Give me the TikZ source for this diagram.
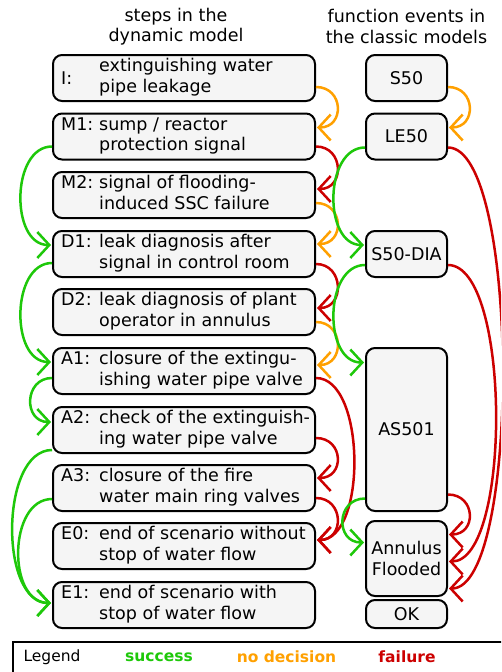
\documentclass[tikz,border=0pt]{standalone}
\usepackage{fontspec}
\setmainfont{DejaVu Sans}
\usetikzlibrary{arrows.meta}
\definecolor{cgreen}{RGB}{30,200,10}
\definecolor{corange}{RGB}{255,160,0}
\definecolor{cred}{RGB}{204,0,0}
\definecolor{boxfill}{RGB}{245,245,245}
\begin{document}
\begin{tikzpicture}[x=1pt,y=-1pt,
  font=\fontsize{17.5}{20.5}\selectfont,
  stepbox/.style={draw, line width=2pt, rounded corners=9pt, fill=boxfill, minimum width=262pt, minimum height=46pt, inner sep=0pt},
  fbox/.style={draw, line width=2pt, rounded corners=9pt, fill=boxfill, minimum width=81pt, inner sep=0pt, align=center},
  steptext/.style={anchor=west, inner sep=0pt},
  conn/.style={line width=2.5pt, -{Straight Barb[length=12pt,width=26pt]}},
  succ/.style={conn, draw=cgreen},
  nodec/.style={conn, draw=corange},
  fail/.style={conn, draw=cred},
  legtext/.style={font=\fontsize{15.5}{18}\selectfont\bfseries},
]
\useasboundingbox (0,0) rectangle (501,672);
\clip (0,0) rectangle (501,672);

% headings
\node[align=center] (h1) at (176,26.5) {steps in the\\dynamic model};
\node[align=center] (h2) at (406.5,26.5) {function events in\\the classic models};

% left boxes
\node[stepbox] (I)  at (184,78)    {};
\node[stepbox] (M1) at (184,136.5) {};
\node[stepbox] (M2) at (184,195)   {};
\node[stepbox] (D1) at (184,254)   {};
\node[stepbox] (D2) at (184,312)   {};
\node[stepbox] (A1) at (184,371)   {};
\node[stepbox] (A2) at (184,430)   {};
\node[stepbox] (A3) at (184,488)   {};
\node[stepbox] (E0) at (184,546)   {};
\node[stepbox] (E1) at (184,605)   {};

\node[steptext] (Il) at ([xshift=9pt]I.west) {I:};
\node[steptext] (It) at ([xshift=47pt]I.west) {\begin{tabular}{@{}l@{}}extinguishing water\\pipe leakage\end{tabular}};
\node[steptext] (M1t) at ([xshift=9pt]M1.west) {\begin{tabular}{@{}p{38pt}@{}l@{}}M1:&sump / reactor\\&protection signal\end{tabular}};
\node[steptext] (M2t) at ([xshift=9pt]M2.west) {\begin{tabular}{@{}p{38pt}@{}l@{}}M2:&signal of flooding-\\&induced SSC failure\end{tabular}};
\node[steptext] (D1t) at ([xshift=9pt]D1.west) {\begin{tabular}{@{}p{38pt}@{}l@{}}D1:&leak diagnosis after\\&signal in control room\end{tabular}};
\node[steptext] (D2t) at ([xshift=9pt]D2.west) {\begin{tabular}{@{}p{38pt}@{}l@{}}D2:&leak diagnosis of plant\\&operator in annulus\end{tabular}};
\node[steptext] (A1t) at ([xshift=9pt]A1.west) {\begin{tabular}{@{}p{38pt}@{}l@{}}A1:&closure of the extingu-\\&ishing water pipe valve\end{tabular}};
\node[steptext] (A2t) at ([xshift=9pt]A2.west) {\begin{tabular}{@{}p{38pt}@{}l@{}}A2:&check of the extinguish-\\&ing water pipe valve\end{tabular}};
\node[steptext] (A3t) at ([xshift=9pt]A3.west) {\begin{tabular}{@{}p{38pt}@{}l@{}}A3:&closure of the fire\\&water main ring valves\end{tabular}};
\node[steptext] (E0t) at ([xshift=9pt]E0.west) {\begin{tabular}{@{}p{38pt}@{}l@{}}E0:&end of scenario without\\&stop of water flow\end{tabular}};
\node[steptext] (E1t) at ([xshift=9pt]E1.west) {\begin{tabular}{@{}p{38pt}@{}l@{}}E1:&end of scenario with\\&stop of water flow\end{tabular}};

% right boxes
\node[fbox, minimum height=46pt] (S50) at (406.5,78) {S50};
\node[fbox, minimum height=46pt] (LE50) at (406.5,136.5) {LE50};
\node[fbox, minimum height=46pt] (S50DIA) at (406.5,254) {S50-DIA};
\node[fbox, minimum height=163pt] (AS501) at (406.5,429.5) {AS501};
\node[fbox, minimum height=75pt] (AF) at (406.5,558.5) {Annulus\\Flooded};
\node[fbox, minimum height=28pt] (OK) at (406.5,614) {OK};

% no decision
\draw[nodec] ([yshift=-9pt]I.east) .. controls +(28,0) and +(28,0) .. ([xshift=1pt,yshift=9pt]M1.east);
\draw[nodec] ([yshift=-9pt]S50.east) .. controls +(28,0) and +(28,0) .. ([xshift=1pt,yshift=9pt]LE50.east);
\draw[nodec] ([yshift=-8pt]M2.east) .. controls +(28,0) and +(28,0) .. ([xshift=1pt,yshift=10pt]D1.east);
\draw[nodec] ([yshift=-10pt]D2.east) .. controls +(28,0) and +(28,0) .. ([xshift=1pt,yshift=6pt]A1.east);

% failure
\draw[fail] ([yshift=-10pt]M1.east) .. controls +(28,0) and +(28,0) .. ([xshift=1pt,yshift=6pt]M2.east);
\draw[fail] ([yshift=-10pt]D1.east) .. controls +(28,0) and +(28,0) .. ([xshift=1pt,yshift=4pt]D2.east);
\draw[fail] ([yshift=-7pt]A1.east) .. controls +(50,0) and +(50,0) .. ([xshift=1pt,yshift=6pt]E0.east);
\draw[fail] ([yshift=-8pt]A2.east) .. controls +(28,0) and +(28,0) .. ([xshift=1pt,yshift=10pt]A3.east);
\draw[fail] ([yshift=-10pt]A3.east) .. controls +(28,0) and +(28,0) .. ([xshift=1pt,yshift=6pt]E0.east);
\draw[fail] ([yshift=-11pt]LE50.east) .. controls +(72,0) and +(72,0) .. ([xshift=1pt,yshift=-30pt]AF.east);
\draw[fail] ([yshift=-11pt]S50DIA.east) .. controls +(63,0) and +(63,0) .. ([xshift=1pt,yshift=-3pt]AF.east);
\draw[fail] ([yshift=-65pt]AS501.east) .. controls +(28,0) and +(28,0) .. ([xshift=1pt,yshift=24pt]AF.east);

% success
\draw[succ] ([yshift=-10pt]M1.west) .. controls +(-41,0) and +(-41,0) .. ([xshift=-1pt,yshift=9pt]D1.west);
\draw[succ] ([yshift=-9pt]D1.west) .. controls +(-41,0) and +(-41,0) .. ([xshift=-1pt,yshift=9pt]A1.west);
\draw[succ] ([yshift=-7pt]A1.west) .. controls +(-28,0) and +(-28,0) .. ([xshift=-1pt,yshift=8pt]A2.west);
\draw[succ] ([yshift=-20pt]A2.west) .. controls +(-52,0) and +(-52,0) .. ([xshift=-1pt,yshift=2pt]E1.west);
\draw[succ] ([yshift=-11pt]A3.west) .. controls +(-44,0) and +(-44,0) .. ([xshift=-1pt,yshift=2pt]E1.west);
\draw[succ] ([yshift=-11pt]LE50.west) .. controls +(-41,0) and +(-41,0) .. ([xshift=-1pt,yshift=9pt]S50DIA.west);
\draw[succ] ([yshift=-11pt]S50DIA.west) .. controls +(-41,0) and +(-41,0) .. ([xshift=-1pt,yshift=67pt]AS501.west);
\draw[succ] ([yshift=-69pt]AS501.west) .. controls +(-29,0) and +(-29,0) .. ([xshift=-1pt,yshift=16pt]AF.west);

% legend
\draw[line width=2pt] (13,642) rectangle (540,700);
\node[anchor=west, font=\fontsize{15.5}{18}\selectfont] (lg) at (20,657) {Legend};
\node[legtext, text=cgreen] (ls) at (159,657) {success};
\node[legtext, text=corange] (ln) at (286.5,657) {no decision};
\node[legtext, text=cred] (lf) at (407,657) {failure};
\end{tikzpicture}
\end{document}
